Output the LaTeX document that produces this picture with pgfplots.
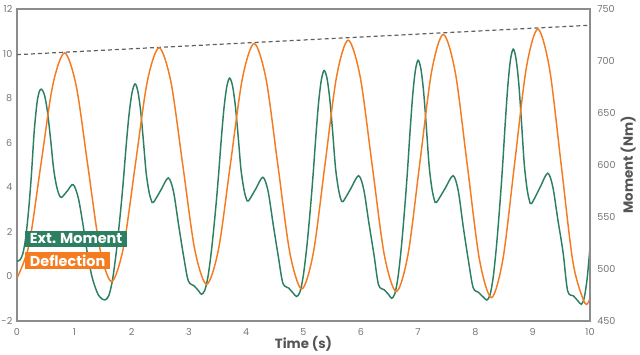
\documentclass[border=0pt]{standalone}
\usepackage{pgfplots}
\pgfplotsset{compat=1.18}
\usepackage{fontspec}
\setmainfont{Poppins}
\definecolor{gr}{HTML}{2D7F62}
\definecolor{orng}{HTML}{F47B20}
\definecolor{axgray}{HTML}{8C8C8C}
\definecolor{tickgray}{HTML}{757575}
\definecolor{labgray}{HTML}{555555}
\begin{document}
\begin{tikzpicture}
\begin{axis}[
  scale only axis, width=429.75pt, height=234pt,
  xmin=0, xmax=10, ymin=-2, ymax=12,
  xtick={0,1,...,10}, ytick={-2,0,...,12},
  major tick length=0pt,
  axis line style={axgray, line width=0.9pt},
  tick label style={font=\fontsize{7.2}{8}\selectfont, color=tickgray},
  /pgf/number format/assume math mode=true,
  xticklabel style={yshift=-2pt},
  xlabel={Time (s)},
  xlabel style={font=\bfseries\fontsize{10}{11}\selectfont, color=labgray, yshift=6pt},
  clip=true,
]
\coordinate (SW) at (rel axis cs:0,0);
\coordinate (NE) at (rel axis cs:1,1);
\addplot[gray!75!black, line width=0.9pt, dash pattern=on 3pt off 2.25pt] coordinates {(0,9.95) (10,11.27)};
\addplot[gr, line width=1.1pt, smooth] coordinates {
(0,0.68) (0.05,0.74) (0.1,1.0) (0.15,1.7) (0.2,2.9) (0.25,4.5) (0.3,6.5) (0.35,7.8) (0.39,8.3) (0.43,8.4)
(0.4825,8.11) (0.535,7.33) (0.5875,6.12) (0.64,4.81) (0.6925,4.03) (0.738,3.65) (0.78,3.55)
(0.88,3.84) (0.98,4.12)
(1.07,3.52) (1.16,2.19) (1.23,1.0) (1.30,0.08) (1.36,-0.45) (1.42,-0.83) (1.48,-1.0) (1.54,-1.05)
(1.602,-0.86) (1.665,-0.18) (1.732,1.08) (1.80,2.73) (1.852,4.18) (1.904,5.83) (1.956,7.28) (2.008,8.25) (2.06,8.64)
(2.108,8.32) (2.156,7.47) (2.204,6.14) (2.252,4.70) (2.30,3.85) (2.342,3.43) (2.38,3.32)
(2.51,3.87) (2.64,4.42)
(2.73,3.82) (2.82,2.32) (2.91,0.87) (2.99,-0.2) (3.09,-0.42) (3.17,-0.65) (3.22,-0.8)
(3.279,-0.61) (3.338,0.07) (3.401,1.33) (3.465,2.98) (3.514,4.44) (3.563,6.09) (3.612,7.54) (3.661,8.51) (3.71,8.9)
(3.76,8.57) (3.809,7.69) (3.859,6.31) (3.908,4.82) (3.958,3.94) (4.0,3.50) (4.04,3.39)
(4.165,3.92) (4.29,4.45)
(4.38,3.85) (4.47,2.35) (4.56,0.9) (4.64,-0.3) (4.74,-0.52) (4.82,-0.75) (4.88,-0.9)
(4.938,-0.70) (4.995,0.01) (5.058,1.33) (5.12,3.05) (5.168,4.58) (5.216,6.30) (5.264,7.82) (5.312,8.83) (5.36,9.24)
(5.41,8.89) (5.459,7.95) (5.509,6.48) (5.558,4.89) (5.608,3.95) (5.65,3.48) (5.69,3.36)
(5.825,3.94) (5.96,4.52)
(6.05,3.92) (6.14,2.42) (6.23,0.97) (6.31,-0.38) (6.41,-0.6) (6.49,-0.83) (6.54,-0.98)
(6.595,-0.77) (6.65,-0.02) (6.71,1.37) (6.77,3.19) (6.816,4.79) (6.862,6.60) (6.908,8.20) (6.954,9.27) (7.0,9.7)
(7.048,9.32) (7.096,8.30) (7.144,6.70) (7.192,4.98) (7.24,3.96) (7.282,3.45) (7.32,3.32)
(7.465,3.92) (7.61,4.52)
(7.70,3.85) (7.79,2.19) (7.88,0.68) (7.96,-0.5) (8.05,-0.71) (8.14,-0.93) (8.2,-1.06)
(8.255,-0.83) (8.31,-0.05) (8.37,1.42) (8.43,3.33) (8.476,5.02) (8.522,6.93) (8.568,8.62) (8.614,9.75) (8.66,10.2)
(8.708,9.78) (8.756,8.68) (8.804,6.94) (8.852,5.07) (8.90,3.96) (8.942,3.41) (8.98,3.27)
(9.12,3.95) (9.26,4.63)
(9.35,4.03) (9.44,2.53) (9.53,1.08) (9.61,-0.65) (9.71,-0.87) (9.79,-1.1) (9.85,-1.25)
(9.9,-0.95) (9.95,-0.1) (10.0,1.3)
};
\addplot[orng, line width=1.1pt, smooth] coordinates {
(0,-0.07) (0.2075,1.40) (0.415,4.98) (0.6225,8.56) (0.83,10.03) (1.035,8.53) (1.24,4.90) (1.445,1.27) (1.65,-0.23)
(1.8575,1.30) (2.065,5.01) (2.2725,8.73) (2.48,10.26) (2.6875,8.71) (2.895,4.96) (3.1025,1.20) (3.31,-0.35)
(3.5175,1.23) (3.725,5.05) (3.9325,8.87) (4.14,10.45) (4.3475,8.84) (4.555,4.95) (4.7625,1.05) (4.97,-0.56)
(5.1725,1.07) (5.375,5.02) (5.5775,8.97) (5.78,10.6) (5.99,8.95) (6.2,4.96) (6.41,0.97) (6.62,-0.68)
(6.825,1.0) (7.03,5.09) (7.235,9.18) (7.44,10.86) (7.65,9.14) (7.86,4.96) (8.07,0.77) (8.28,-0.95)
(8.4825,0.81) (8.685,5.08) (8.8875,9.34) (9.09,11.1) (9.295,9.30) (9.5,4.95) (9.705,0.60) (9.91,-1.2) (10,-0.98)
};
\node[fill=gr, text=white, font=\bfseries\fontsize{10.8}{12}\selectfont, anchor=west, inner xsep=3.5pt, inner ysep=0pt, minimum height=12.5pt] at (axis cs:0.14,1.68) {Ext. Moment};
\node[fill=orng, text=white, font=\bfseries\fontsize{10.8}{12}\selectfont, anchor=west, inner xsep=3.5pt, inner ysep=0pt, minimum height=12.5pt] at (axis cs:0.14,0.72) {Deflection};
\end{axis}
\begin{axis}[
  scale only axis, width=429.75pt, height=234pt,
  xmin=0, xmax=10, ymin=450, ymax=750,
  axis x line=none, axis y line*=right,
  ytick={450,500,...,750},
  major tick length=0pt,
  axis line style={axgray, line width=0.9pt},
  tick label style={font=\fontsize{7.2}{8}\selectfont, color=tickgray},
  /pgf/number format/assume math mode=true,
  yticklabel style={xshift=2pt},
  ylabel={Moment (Nm)},
  ylabel style={font=\bfseries\fontsize{10}{11}\selectfont, color=labgray, yshift=3pt},
]
\end{axis}
\pgfresetboundingbox
\path[use as bounding box] ([shift={(-12.75pt,-24.75pt)}]SW) rectangle ([shift={(37.5pt,6.75pt)}]NE);
\end{tikzpicture}
\end{document}
